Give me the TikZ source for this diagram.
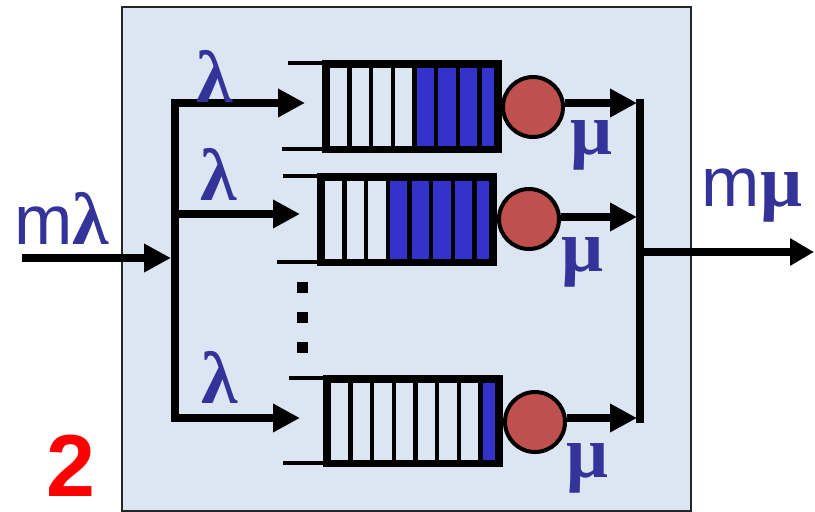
\documentclass[tikz,border=0pt]{standalone}
\usepackage{fontspec}
\setmainfont{Liberation Sans}
\newfontfamily\greekfont{Liberation Serif}
\usetikzlibrary{arrows.meta}

\definecolor{panelblue}{HTML}{DCE6F2}
\definecolor{cellblue}{HTML}{3333CC}
\definecolor{servred}{HTML}{C0504D}
\definecolor{labelblue}{HTML}{333399}

\tikzset{
  flow/.style={line width=8pt, -{Triangle[length=27pt,width=27pt]}},
  bus/.style={line width=8pt, line cap=rect},
  qbox/.style={rectangle, fill=black, draw=none, inner sep=0pt, outer sep=0pt},
  qline/.style={line width=4pt},
  server/.style={circle, draw=black, line width=4pt, fill=servred, minimum size=60pt, inner sep=0pt},
  dotmark/.style={rectangle, fill=black, minimum size=11pt, inner sep=0pt},
  rate/.style={text=labelblue, inner sep=0pt, font=\fontsize{70}{70}\selectfont},
  greek/.style={rate, font=\fontsize{74}{74}\selectfont\greekfont\bfseries},
  cellempty/.style={fill=panelblue},
  cellfull/.style={fill=cellblue}
}

% #1 name, #2 left, #3 top, #4 right, #5 bottom, #6 number of empty cells
\newcommand\drawqueue[6]{%
  \node[qbox, minimum width={#4-#2}, minimum height={#5-#3}] (#1) at ({(#2+#4)/2},{(#3+#5)/2}) {};
  \foreach \i in {0,...,7} {
    \pgfmathsetmacro\xa{#2+8+21.67*\i}
    \pgfmathsetmacro\xb{min(\xa+17.3,#4-8)}
    \ifnum\i<#6 \def\cellfill{cellempty}\else\def\cellfill{cellfull}\fi
    \fill[\cellfill] (\xa,#3+7.5) rectangle (\xb,#5-7);
  }
  \draw[qline] ([yshift=-3pt]#1.north west) -- ++(-34,0);
  \draw[qline] ([yshift=4pt]#1.south west) -- ++(-40,0);
}

\begin{document}
\begin{tikzpicture}[x=1pt, y=-1pt]
  \useasboundingbox (0,0) rectangle (815,512);
  \fill[white] (0,0) rectangle (815,512);

  % system boundary
  \draw[line width=1.5pt, draw=black!85, fill=panelblue] (122,7) rectangle (691,511);

  % queues
  \drawqueue{q1}{322}{60}{502}{153}{4}
  \drawqueue{q2}{317}{173}{497}{266}{3}
  \drawqueue{q3}{323}{375}{503}{467}{7}

  % splitting bus and branches
  \coordinate (lt) at (175,103);
  \coordinate (lm) at (175,214);
  \coordinate (lb) at (175,418);
  \coordinate (t1) at (305,103);
  \coordinate (t2) at (300,214);
  \coordinate (t3) at (300,418);
  \coordinate (inS) at (22,258);
  \coordinate (inE) at (171,258);

  \draw[bus] (lt) -- (lb);
  \draw[flow] (inS) -- (inE);
  \draw[flow] (lt) -- (t1);
  \draw[flow] (lm) -- (t2);
  \draw[flow] (lb) -- (t3);

  % servers
  \node[server] (s1) at (533,107) {};
  \node[server] (s2) at (529,219) {};
  \node[server] (s3) at (535,422) {};

  % merging bus
  \coordinate (rt) at (640,103);
  \coordinate (rm) at (640,252);
  \coordinate (rb) at (640,419);
  \coordinate (o1) at (637,103);
  \coordinate (o2) at (637,217);
  \coordinate (o3) at (637,418);
  \coordinate (out) at (814,252);

  \draw[bus] (rt) -- (rb);
  \draw[flow] (s1.east |- o1) -- (o1);
  \draw[flow] (s2.east |- o2) -- (o2);
  \draw[flow] (s3.east |- o3) -- (o3);
  \draw[flow, -{Triangle[length=24pt,width=26pt]}] (rm) -- (out);

  % omitted queues
  \node[dotmark] (d1) at (302,287) {};
  \node[dotmark] (d2) at (302,317) {};
  \node[dotmark] (d3) at (302,347) {};

  % rate labels
  \node[rate] (lin) at (62,218) {m{\fontsize{74}{74}\selectfont\greekfont\bfseries λ}};
  \node[greek] (l1) at (215,76) {λ};
  \node[greek] (l2) at (219,174) {λ};
  \node[greek] (l3) at (220,377) {λ};
  \node[greek] (m1) at (591,145) {μ};
  \node[greek] (m2) at (582,262) {μ};
  \node[greek] (m3) at (587,468) {μ};
  \node[rate] (lout) at (752,196) {m{\fontsize{74}{74}\selectfont\greekfont\bfseries μ}};

  % scenario number
  \node[text=red, inner sep=2pt, font=\fontsize{88}{88}\selectfont\bfseries] (num) at (71,466) {2};
\end{tikzpicture}
\end{document}
